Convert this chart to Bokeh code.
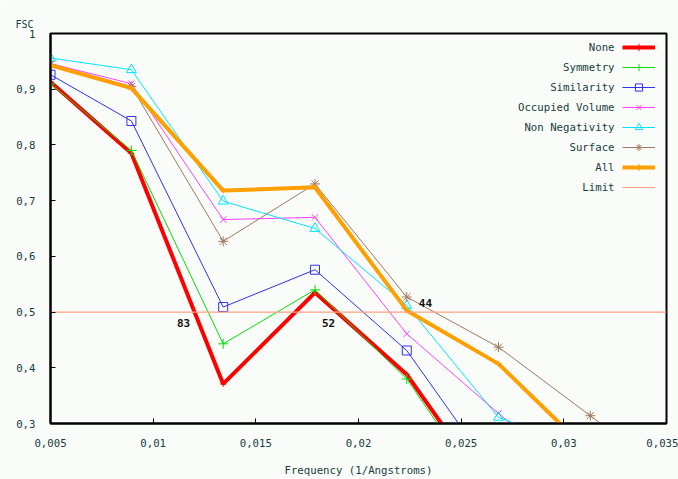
from bokeh.plotting import figure
from bokeh.models import (Range1d, FixedTicker, CustomJSTickFormatter, Title,
                          ColumnDataSource, Legend, LegendItem)
from bokeh.core.properties import value
from bokeh.embed import file_html
from bokeh.resources import INLINE

# ---- data ----
freq = [0.005, 0.00894, 0.01341, 0.01788, 0.02235, 0.02682, 0.03129, 0.03576]
none_fsc = [0.913, 0.785, 0.371, 0.535, 0.388, 0.155]
symmetry_fsc = [0.910, 0.790, 0.443, 0.540, 0.380, 0.140]
similarity_fsc = [0.926, 0.843, 0.509, 0.576, 0.431, 0.199]
occupied_fsc = [0.946, 0.910, 0.666, 0.670, 0.461, 0.318, 0.180]
nonneg_fsc = [0.956, 0.935, 0.699, 0.650, 0.512, 0.311, 0.250]
surface_fsc = [0.944, 0.905, 0.627, 0.730, 0.527, 0.437, 0.314, 0.190]
all_fsc = [0.943, 0.902, 0.718, 0.724, 0.503, 0.407, 0.247]
limit_x = [0.005, 0.035]
limit_y = [0.5, 0.5]
res_labels = ["83", "52", "44"]
res_x = [0.01148, 0.01854, 0.02326]
res_y = [0.481, 0.481, 0.517]
x_ticks = [0.005, 0.01, 0.015, 0.02, 0.025, 0.03, 0.035]
y_ticks = [0.3, 0.4, 0.5, 0.6, 0.7, 0.8, 0.9, 1.0]

FONT = "DejaVu Sans Mono"
TXT = "#163c3c"
BG = "#fafcfa"

p = figure(width=678, height=479, output_backend="svg", toolbar_location=None,
           x_range=Range1d(0.005, 0.035), y_range=Range1d(0.3, 1.0),
           min_border_left=50, min_border_right=12, min_border_top=33,
           min_border_bottom=56)
p.background_fill_color = BG
p.border_fill_color = BG
p.outline_line_color = "#000000"
p.outline_line_width = 2
p.xgrid.visible = False
p.ygrid.visible = False

fmt = CustomJSTickFormatter(code="""
var v = Math.round(tick*1000)/1000;
return v.toString().replace('.', ',');
""")
for ax, ticks in ((p.xaxis[0], x_ticks), (p.yaxis[0], y_ticks)):
    ax.ticker = FixedTicker(ticks=ticks)
    ax.formatter = fmt
    ax.major_tick_in = 5
    ax.major_tick_out = 0
    ax.minor_tick_in = 0
    ax.minor_tick_out = 0
    ax.major_tick_line_color = "#000000"
    ax.axis_line_color = "#000000"
    ax.axis_line_width = 2
    ax.major_label_text_font = FONT
    ax.major_label_text_font_size = "10.7px"
    ax.major_label_text_color = TXT
p.xaxis.major_label_standoff = 15
p.yaxis.major_label_standoff = 15
p.xaxis.axis_label = "Frequency (1/Angstroms)"
p.xaxis.axis_label_text_font = FONT
p.xaxis.axis_label_text_font_size = "10.7px"
p.xaxis.axis_label_text_font_style = "normal"
p.xaxis.axis_label_text_color = TXT
p.xaxis.axis_label_standoff = 14

series = [
    ("None", none_fsc, "#ff0000", 4, "cross", 6),
    ("Symmetry", symmetry_fsc, "#00e000", 1, "cross", 10),
    ("Similarity", similarity_fsc, "#3030f0", 1, "square", 9),
    ("Occupied Volume", occupied_fsc, "#ff40ff", 1, "x", 9),
    ("Non Negativity", nonneg_fsc, "#00e4ff", 1, "triangle", 10),
    ("Surface", surface_fsc, "#a07860", 1, "asterisk", 10),
    ("All", all_fsc, "#ffa000", 4, "cross", 6),
]
glyph_items = []
names = []
for name, ys, col, lw, mk, ms in series:
    src = ColumnDataSource(dict(x=freq[:len(ys)], y=ys))
    r1 = p.line("x", "y", source=src, line_color=col, line_width=lw)
    r2 = p.scatter("x", "y", source=src, marker=mk, size=ms, line_color=col,
                   fill_color=None, line_width=1)
    glyph_items.append([r1, r2])
    names.append(name)
rl = p.line(limit_x, limit_y, line_color="#ffa080", line_width=1.2)
glyph_items.append([rl])
names.append("Limit")

# legend: right-aligned names (monospace, padded with no-break spaces),
# sample glyphs on their right
width_chars = max(len(n) for n in names)
padded = ["\u00a0" * (width_chars - len(n)) + n for n in names]
dummy = p.line(x=[], y=[], line_alpha=0)
LEG_H = 18
LEG_SP = 2
leg_bottom = 227

text_legend = Legend(
    items=[LegendItem(label=n, renderers=[dummy]) for n in padded],
    location=(468, leg_bottom), glyph_width=0, glyph_height=LEG_H,
    label_height=LEG_H, label_standoff=0, spacing=LEG_SP, padding=0, margin=0,
    background_fill_alpha=0, border_line_alpha=0, label_text_font=FONT,
    label_text_font_size="10.7px", label_text_color=TXT, label_width=1)
glyph_legend = Legend(
    items=[LegendItem(label=" ", renderers=rs) for rs in glyph_items],
    location=(572, leg_bottom), glyph_width=33, glyph_height=LEG_H,
    label_height=LEG_H, label_standoff=0, spacing=LEG_SP, padding=0, margin=0,
    background_fill_alpha=0, border_line_alpha=0, label_text_font=FONT,
    label_text_font_size="10.7px", label_width=1)
p.add_layout(text_legend, "center")
p.add_layout(glyph_legend, "center")

src_lab = ColumnDataSource(dict(x=res_x, y=res_y, t=res_labels))
p.text("x", "y", text="t", source=src_lab, text_font=value(FONT),
       text_font_size="11px", text_color="#111111", text_font_style="bold",
       text_align="center", text_baseline="middle")

p.add_layout(Title(text="FSC", align="left", offset=-35, text_font=FONT,
                   text_font_size="10px", text_font_style="normal",
                   text_color=TXT, standoff=8), "above")

open("out.html", "w").write(file_html(p, INLINE))
